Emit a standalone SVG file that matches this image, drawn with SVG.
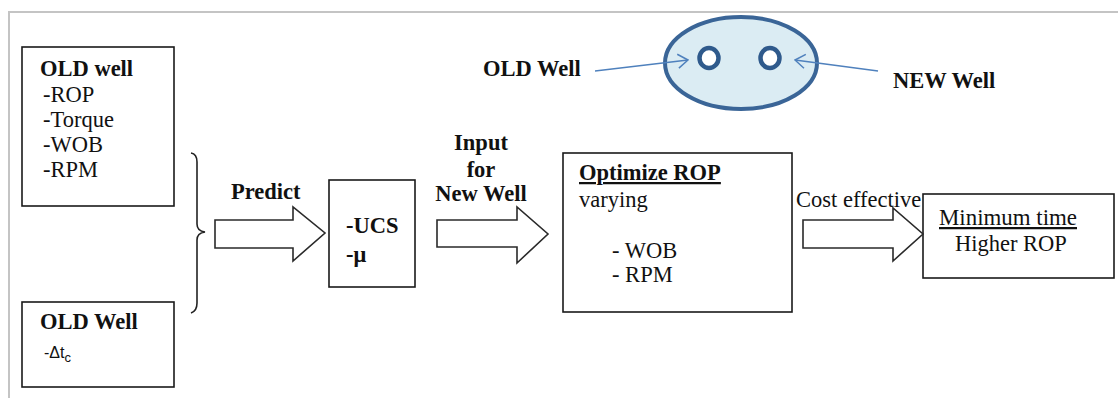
<svg xmlns="http://www.w3.org/2000/svg" width="1118" height="398" viewBox="0 0 1118 398">
  <defs>
    <style>
      .frame { fill: none; stroke: #c4c4c4; stroke-width: 2; }
      .box { fill: #ffffff; stroke: #1a1a1a; stroke-width: 1.6; }
      .blk { fill: #ffffff; stroke: #2a2a2a; stroke-width: 1.6; stroke-linejoin: miter; }
      .t { font-family: "Liberation Serif", "Times New Roman", serif; font-size: 22.5px; fill: #111111; }
      .b { font-weight: bold; }
      .u { text-decoration: underline; }
      .pointer { fill: none; stroke: #4f81bd; stroke-width: 1.5; }
      .brace { fill: none; stroke: #222222; stroke-width: 1.6; }
    </style>
    <marker id="chev" viewBox="0 0 12 16" refX="11" refY="8" markerWidth="12" markerHeight="16" markerUnits="userSpaceOnUse" orient="auto">
      <path d="M1,1 L11,8 L1,15" fill="none" stroke="#4f81bd" stroke-width="1.5"/>
    </marker>
  </defs>

  <!-- page frame -->
  <path class="frame" d="M9,398 L9,12 L1118,12"/>

  <!-- well cross-section -->
  <g id="well-plan">
    <ellipse cx="741" cy="63" rx="76" ry="46" fill="#dbecf3" stroke="#3a6597" stroke-width="4"/>
    <ellipse cx="709" cy="58" rx="9.5" ry="10" fill="#ffffff" stroke="#2f5a8c" stroke-width="4.5"/>
    <ellipse cx="770" cy="58" rx="9.5" ry="10" fill="#ffffff" stroke="#2f5a8c" stroke-width="4.5"/>
    <text class="t b" x="483" y="76">OLD Well</text>
    <text class="t b" x="893" y="88">NEW Well</text>
  </g>

  <g id="old-well-logs">
    <rect class="box" x="22" y="47" width="152" height="159"/>
    <text class="t b" x="40" y="76">OLD well</text>
    <text class="t" x="43" y="102">-ROP</text>
    <text class="t" x="43" y="127">-Torque</text>
    <text class="t" x="43" y="152">-WOB</text>
    <text class="t" x="43" y="177">-RPM</text>
  </g>

  <g id="old-well-sonic">
    <rect class="box" x="22" y="302" width="152" height="85"/>
    <text class="t b" x="40" y="329">OLD Well</text>
    <text class="t" x="44" y="358" style="font-family: 'Liberation Sans', Arial, sans-serif; font-size: 16px;">-Δt<tspan dy="4" font-size="13">c</tspan></text>
  </g>

  <g id="rock-props">
    <rect class="box" x="329" y="180" width="86" height="107"/>
    <text class="t b" x="346" y="233">-UCS</text>
    <text class="t b" x="346" y="262">-μ</text>
  </g>

  <g id="optimize">
    <rect class="box" x="563" y="153" width="229" height="159"/>
    <text class="t b u" x="579" y="180">Optimize ROP</text>
    <text class="t" x="579" y="207">varying</text>
    <text class="t" x="612" y="258">- WOB</text>
    <text class="t" x="612" y="282">- RPM</text>
  </g>

  <g id="result">
    <rect class="box" x="923" y="194" width="191" height="84"/>
    <text class="t u" x="939" y="225" textLength="138" lengthAdjust="spacingAndGlyphs">Minimum time</text>
    <text class="t" x="955" y="251">Higher ROP</text>
  </g>

  <g id="connectors">
    <!-- brace grouping the two old-well inputs -->
    <path class="brace" d="M191,153 Q197,154 197,162 L197,224 Q197,231 205,232 Q197,233 197,240 L197,303 Q197,311 191,313"/>

    <!-- block arrows -->
    <path class="blk" d="M215,220 L293,220 L293,207 L325,233 L293,261 L293,248 L215,248 Z"/>
    <text class="t b" x="231" y="199">Predict</text>

    <path class="blk" d="M437,220 L517,220 L517,207 L548,234 L517,263 L517,247 L437,247 Z"/>
    <text class="t b" x="481" y="150" text-anchor="middle">Input</text>
    <text class="t b" x="481" y="177" text-anchor="middle">for</text>
    <text class="t b" x="481" y="201" text-anchor="middle">New Well</text>

    <path class="blk" d="M803,220 L893,220 L893,208 L923,234 L893,261 L893,248 L803,248 Z"/>
    <text class="t" x="796" y="207">Cost effective</text>

    <!-- pointers to the well positions -->
    <line class="pointer" x1="595" y1="71" x2="688" y2="60" marker-end="url(#chev)"/>
    <line class="pointer" x1="878" y1="71" x2="795" y2="60" marker-end="url(#chev)"/>
  </g>
</svg>
